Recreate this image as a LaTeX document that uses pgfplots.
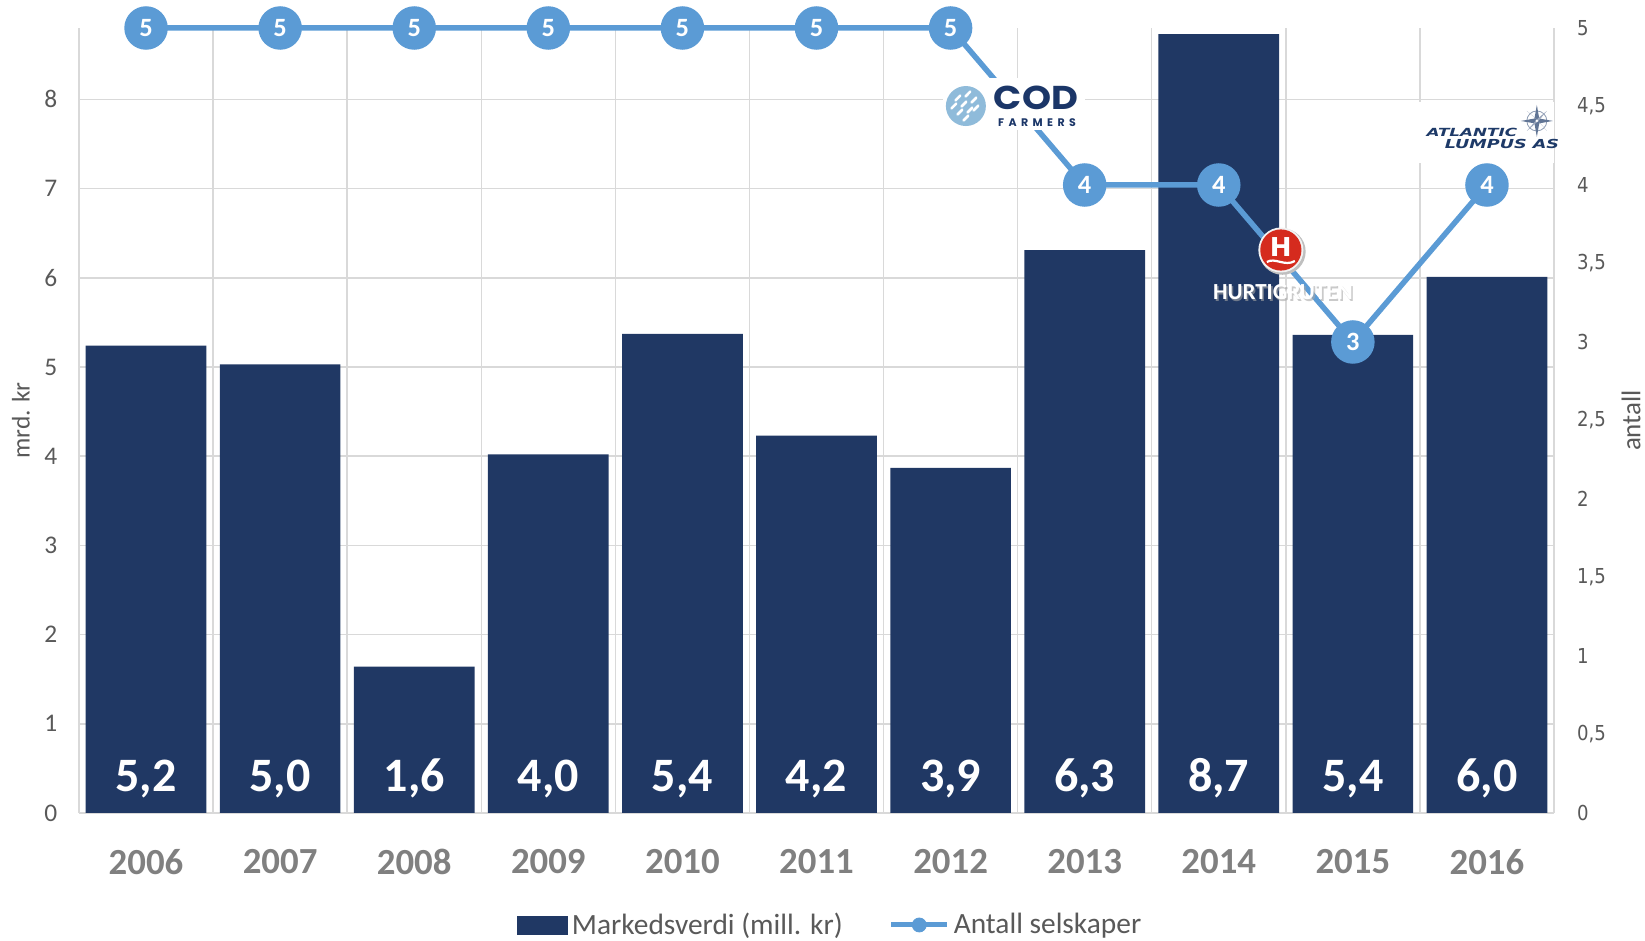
\documentclass[border=0pt]{standalone}
\usepackage{fontspec}
\setmainfont{Carlito}
\newfontfamily\rtickfont{DejaVu Sans}[FakeStretch=0.88]
\newfontfamily\logofont{Poppins}
\newfontfamily\djv{DejaVu Sans}
\usepackage{pgfplots}
\pgfplotsset{compat=1.18}
\usepackage{pgfplotstable}
\definecolor{barnavy}{HTML}{203864}
\definecolor{lineblue}{HTML}{5B9BD5}
\definecolor{gridgray}{HTML}{D9D9D9}
\definecolor{tickgray}{HTML}{595959}
\definecolor{yeargray}{HTML}{808080}
\definecolor{codnavy}{HTML}{1B3668}
\definecolor{codblue}{HTML}{8FBBDA}
\definecolor{hred}{HTML}{D52B1E}
\definecolor{atlnavy}{HTML}{1E3A68}

\pgfplotstableread{
x year val cnt
0 2006 5.24 5
1 2007 5.03 5
2 2008 1.64 5
3 2009 4.02 5
4 2010 5.37 5
5 2011 4.23 5
6 2012 3.87 5
7 2013 6.31 4
8 2014 8.73 4
9 2015 5.36 3
10 2016 6.01 4
}\data

\begin{document}
\begin{tikzpicture}
\begin{axis}[
  scale only axis, width=737.5pt, height=392.5pt,
  xmin=-0.5, xmax=10.5, ymin=0, ymax=8.8,
  axis line style={draw=none},
  xtick={0,...,10},
  xticklabels={2006,2007,2008,2009,2010,2011,2012,2013,2014,2015,2016},
  minor xtick={-0.5,0.5,...,10.5},
  xminorgrids=true, xmajorgrids=false, ymajorgrids=true,
  grid style={draw=gridgray, line width=0.75pt},
  minor grid style={draw=gridgray, line width=0.75pt},
  ytick={0,...,8},
  major tick length=0pt, minor tick length=0pt,
  xticklabel style={font=\bfseries\fontsize{18.4}{20}\selectfont, text=yeargray, anchor=center, yshift=-24.5pt},
  yticklabel style={font=\fontsize{12.7}{15}\selectfont, text=tickgray, anchor=east, xshift=-7.3pt},
  /pgf/number format/assume math mode=true,
  ylabel={mrd. kr},
  ylabel style={font=\fontsize{12.7}{15}\selectfont, text=tickgray, at={([xshift=-29pt]axis description cs:0,0.5)}, anchor=center},
]
\addplot[ybar, fill=barnavy, draw=none, bar width=0.9] table[x=x, y=val]{\data};
\addplot[draw=none, mark=none,
  point meta=explicit,
  nodes near coords={\pgfmathprintnumber[fixed,fixed zerofill,precision=1,use comma]{\pgfplotspointmeta}},
  every node near coord/.append style={anchor=base, text=white, font=\bfseries\fontsize{24}{26}\selectfont, inner sep=0pt}]
  table[x=x, y expr=0.237, meta=val]{\data};
\end{axis}

\begin{axis}[
  scale only axis, width=737.5pt, height=392.5pt,
  xmin=-0.5, xmax=10.5, ymin=0, ymax=5,
  clip=false,
  hide x axis,
  axis y line*=right,
  axis line style={draw=none},
  ytick={0,0.5,...,5},
  major tick length=0pt,
  yticklabel style={font=\rtickfont\fontsize{10.3}{12}\selectfont, text=tickgray, anchor=west, xshift=8pt, /pgf/number format/use comma},
  /pgf/number format/assume math mode=true,
  ylabel={antall},
  ylabel style={font=\fontsize{13.5}{15}\selectfont, text=tickgray, at={([xshift=38.5pt]axis description cs:1,0.5)}, anchor=center},
  legend style={at={(axis description cs:0.51,0)}, anchor=center, yshift=-56pt,
    legend columns=2, draw=none, fill=none,
    font=\fontsize{14.7}{17}\selectfont, text=tickgray,
    /tikz/every even column/.append style={column sep=21pt}},
]
\addlegendimage{legend image code/.code={\fill[barnavy] (0pt,-4.5pt) rectangle (25pt,4.5pt);}}
\addlegendentry{Markedsverdi (mill. kr)}
\addlegendimage{legend image code/.code={\draw[lineblue, line width=2.5pt] (0pt,0pt) -- (28pt,0pt); \fill[lineblue] (14pt,0pt) circle (3.5pt);}}
\addlegendentry{Antall selskaper}

\addplot[forget plot, lineblue, line width=2.75pt, mark=*, mark size=9.5pt,
  mark options={fill=lineblue, draw=none},
  point meta=y, nodes near coords,
  every node near coord/.append style={anchor=center, text=white, font=\bfseries\fontsize{13.2}{15}\selectfont}]
  table[x=x, y=cnt]{\data};

% COD Farmers logo
\fill[white] (axis cs:5.94,4.35) rectangle (axis cs:7.0,4.68);
\begin{scope}[shift={(axis cs:6.114,4.503)}]
  \fill[codblue] (0pt,0pt) circle (10pt);
  \draw[white, line width=1.3pt, line cap=round] (-5.2pt,2.8pt) -- (-2.8pt,5.2pt);
  \draw[white, line width=1.3pt, line cap=round] (-2.2pt,-0.2pt) -- (0.2pt,2.2pt);
  \draw[white, line width=1.3pt, line cap=round] (0.8pt,-3.2pt) -- (3.2pt,-0.8pt);
  \draw[white, line width=1.3pt, line cap=round] (-7.2pt,-1.2pt) -- (-4.8pt,1.2pt);
  \draw[white, line width=1.3pt, line cap=round] (-4.2pt,-4.2pt) -- (-1.8pt,-1.8pt);
  \draw[white, line width=1.3pt, line cap=round] (-1.2pt,-7.2pt) -- (1.2pt,-4.8pt);
  \draw[white, line width=1.3pt, line cap=round] (-0.2pt,4.8pt) -- (2.2pt,7.2pt);
  \draw[white, line width=1.3pt, line cap=round] (2.8pt,1.8pt) -- (5.2pt,4.2pt);
  \draw[white, line width=1.3pt, line cap=round] (3.8pt,-2.2pt) -- (6.2pt,0.2pt);
\end{scope}
\node[text=codnavy, font=\logofont\bfseries\fontsize{16.5}{17}\selectfont, inner sep=0pt, xscale=1.12] at (axis cs:6.637,4.553) {COD};
\node[text=codnavy, font=\logofont\bfseries\fontsize{5.5}{6}\selectfont, inner sep=0pt] at (axis cs:6.645,4.40) {F\hspace{2.2pt}A\hspace{2.2pt}R\hspace{2.2pt}M\hspace{2.2pt}E\hspace{2.2pt}R\hspace{2.2pt}S};

% Hurtigruten logo
\begin{scope}[shift={(axis cs:8.463,3.586)}]
  \fill[black!25] (0.8pt,-0.8pt) circle (11.6pt);
  \fill[white!90!gray] (0pt,0pt) circle (11.25pt);
  \fill[hred] (0pt,0pt) circle (10.3pt);
  \node[text=white, font=\djv\bfseries\fontsize{13}{14}\selectfont, inner sep=0pt] at (0pt,1.6pt) {H};
  \draw[white, line width=1.1pt] (-7pt,-6pt) .. controls (-3pt,-3.5pt) and (2pt,-8.5pt) .. (7pt,-5.5pt);
\end{scope}
\node[text=black!35, opacity=0.6, font=\bfseries\fontsize{11.5}{12}\selectfont, inner sep=0pt] at ([shift={(0.8pt,-0.8pt)}]axis cs:8.478,3.318) {HURTIGRUTEN};
\node[text=white, font=\bfseries\fontsize{11.5}{12}\selectfont, inner sep=0pt] at (axis cs:8.478,3.318) {HURTIGRUTEN};

% Atlantic Lumpus logo
\fill[white] (axis cs:9.47,4.14) rectangle (axis cs:10.5,4.53);
\node[text=atlnavy, font=\djv\bfseries\itshape\fontsize{5.6}{6}\selectfont, inner sep=0pt, xscale=1.5] at (axis cs:9.888,4.338) {ATLANTIC};
\node[text=atlnavy, font=\djv\bfseries\itshape\fontsize{6.2}{7}\selectfont, inner sep=0pt, xscale=1.42] at (axis cs:10.112,4.264) {LUMPUS AS};
\begin{scope}[shift={(axis cs:10.372,4.408)}]
  \draw[atlnavy!50, line width=0.4pt] (0pt,0pt) circle (5pt);
  \fill[atlnavy!70] (0pt,8pt) -- (1.2pt,1.2pt) -- (8pt,0pt) -- (1.2pt,-1.2pt) -- (0pt,-8pt) -- (-1.2pt,-1.2pt) -- (-8pt,0pt) -- (-1.2pt,1.2pt) -- cycle;
  \fill[atlnavy!45] (5pt,5pt) -- (0.8pt,0pt) -- (-5pt,-5pt) -- (0pt,0.8pt) -- cycle;
  \fill[atlnavy!45] (-5pt,5pt) -- (0pt,0.8pt) -- (5pt,-5pt) -- (0.8pt,0pt) -- cycle;
  \fill[white] (0pt,0pt) circle (0.7pt);
\end{scope}
\end{axis}
\pgfresetboundingbox
\path (-39.5pt,-64pt) rectangle (783pt,406.5pt);
\end{tikzpicture}
\end{document}
